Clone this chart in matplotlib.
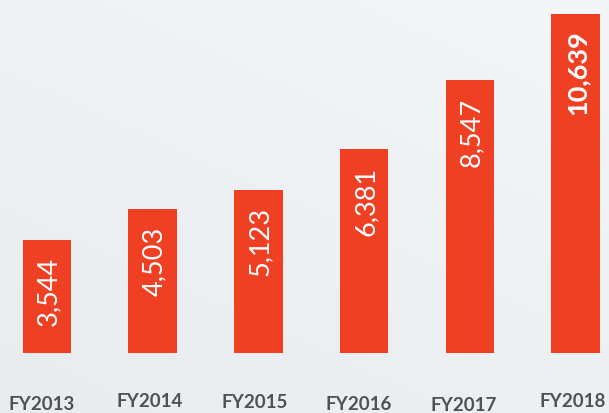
import matplotlib
matplotlib.use("Agg")
import matplotlib.pyplot as plt
import numpy as np

# ---- data ----
categories = ["FY2013", "FY2014", "FY2015", "FY2016", "FY2017", "FY2018"]
values = [3544, 4503, 5123, 6381, 8547, 10639]
value_labels = ["3,544", "4,503", "5,123", "6,381", "8,547", "10,639"]

# ---- layout / style ----
W, H = 609, 413
bar_color = "#EF4024"
label_color = "#4F5153"
label_y_px = [404.2, 401.7, 403.0, 405.0, 405.8, 401.7]   # vertical centre of each x label (px from top)
label_dx_px = [-5, -3, -4, -5, -6, -3]

fig = plt.figure(figsize=(W / 100, H / 100), dpi=100)

# soft background gradient
bg = fig.add_axes([0, 0, 1, 1], zorder=0)
yy, xx = np.mgrid[0:1:200j, 0:1:300j]
t = 0.6 * yy + 0.4 * (1 - xx)
c0 = np.array([0xF4, 0xF6, 0xF8]) / 255.0
c1 = np.array([0xE8, 0xEC, 0xEF]) / 255.0
img = c0[None, None, :] * (1 - t[..., None]) + c1[None, None, :] * t[..., None]
bg.imshow(img, aspect="auto", extent=[0, 1, 0, 1], origin="upper")
bg.set_axis_off()

ax = fig.add_axes([0, 0, 1, 1], zorder=1)
ax.patch.set_alpha(0)

x = np.arange(len(categories))
px_per_unit = 105.7
ax.set_xlim(-47 / px_per_unit, len(categories) - 1 + 33.5 / px_per_unit)
px_per_k = 31.9
ax.set_ylim(-60 / px_per_k * 1000, 353 / px_per_k * 1000)

ax.bar(x, values, width=48.5 / px_per_unit, color=bar_color, linewidth=0)

for i, (v, lab) in enumerate(zip(values, value_labels)):
    ax.annotate(lab, xy=(x[i], v), xytext=(2, -17), textcoords="offset pixels",
                rotation=90, ha="center", va="top", color="white",
                fontsize=19.5, family=["Lato", "DejaVu Sans"],
                fontweight="bold" if i == len(values) - 1 else "normal")

for i, cat in enumerate(categories):
    ax.annotate(cat, xy=(x[i], 1 - label_y_px[i] / H),
                xycoords=ax.get_xaxis_transform(),
                xytext=(label_dx_px[i], 0), textcoords="offset pixels",
                ha="center", va="center", color=label_color,
                fontsize=13.5, fontweight="bold",
                family=["Lato", "DejaVu Sans"])

ax.set_axis_off()
fig.savefig("out.png", dpi=100)
